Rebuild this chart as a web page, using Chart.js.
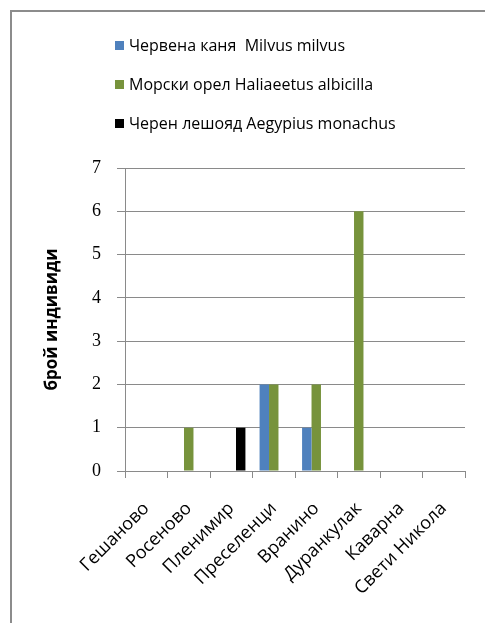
<!DOCTYPE html>
<html>
<head>
<meta charset="utf-8">
<script src="https://cdn.jsdelivr.net/npm/chart.js@4"></script>
<style>
  html, body { margin: 0; padding: 0; background: #fff; overflow: hidden; }
  #wrap { position: relative; width: 485px; height: 623px; }
  #frame { position: absolute; left: 10px; top: 10px; width: 600px; height: 700px; border: 2px solid #8c8c8c; box-sizing: border-box; }
  canvas { position: absolute; left: 0; top: 0; }
</style>
</head>
<body>
<div id="wrap">
  <div id="frame"></div>
  <canvas id="chart" width="485" height="623"></canvas>
</div>
<script>
const places = ["Гешаново", "Росеново", "Пленимир", "Преселенци", "Вранино", "Дуранкулак", "Каварна", "Свети Никола"];
const redKite = [0, 0, 0, 2, 1, 0, 0, 0];
const seaEagle = [0, 1, 0, 2, 2, 6, 0, 0];
const blackVulture = [0, 0, 1, 0, 0, 0, 0, 0];
const yTicks = [0, 1, 2, 3, 4, 5, 6, 7];

const gridColor = "#8a8a8a";

// legend drawn by hand, one entry per line like the original
const stackedLegend = {
  id: "stackedLegend",
  afterDraw(chart) {
    const ctx = chart.ctx;
    ctx.save();
    ctx.font = "16px 'Open Sans'";
    ctx.textBaseline = "middle";
    chart.data.datasets.forEach((ds, i) => {
      const y = 46 + i * 39;
      ctx.fillStyle = ds.backgroundColor;
      ctx.fillRect(115, y - 5, 9, 9);
      ctx.fillStyle = "#000";
      ctx.fillText(ds.label, 129, y);
    });
    ctx.restore();
  },
};

new Chart(document.getElementById("chart"), {
  type: "bar",
  data: {
    labels: places,
    datasets: [
      { label: "Червена каня  Milvus milvus", data: redKite, backgroundColor: "#4f81bd" },
      { label: "Морски орел Haliaeetus albicilla", data: seaEagle, backgroundColor: "#77933c" },
      { label: "Черен лешояд Aegypius monachus", data: blackVulture, backgroundColor: "#000000" },
    ],
  },
  options: {
    responsive: false,
    animation: false,
    layout: { padding: { top: 168, right: 20, bottom: 0, left: 0 } },
    datasets: { bar: { categoryPercentage: 0.667, barPercentage: 1 } },
    plugins: { legend: { display: false }, tooltip: { enabled: false } },
    scales: {
      x: {
        grid: { drawOnChartArea: false, drawTicks: true, tickLength: 7, color: gridColor, offset: true },
        border: { color: gridColor },
        ticks: {
          color: "#000",
          font: { family: "'Open Sans'", size: 18 },
          minRotation: 45,
          maxRotation: 45,
          padding: 20,
          autoSkip: false,
        },
        afterFit(scale) { scale.height = 152; },
      },
      y: {
        min: 0,
        max: 7,
        afterBuildTicks(scale) { scale.ticks = yTicks.map((v) => ({ value: v })); },
        grid: { color: gridColor, tickLength: 8, tickColor: gridColor },
        border: { color: gridColor },
        ticks: {
          color: "#000",
          font: { family: "'Liberation Serif'", size: 18 },
          padding: 16,
        },
        title: {
          display: true,
          text: "брой индивиди",
          color: "#000",
          font: { family: "'Open Sans'", size: 17, weight: "bold" },
          padding: { top: 42, bottom: 0 },
        },
        afterFit(scale) { scale.width = 125; },
      },
    },
  },
  plugins: [stackedLegend],
});
</script>
</body>
</html>
